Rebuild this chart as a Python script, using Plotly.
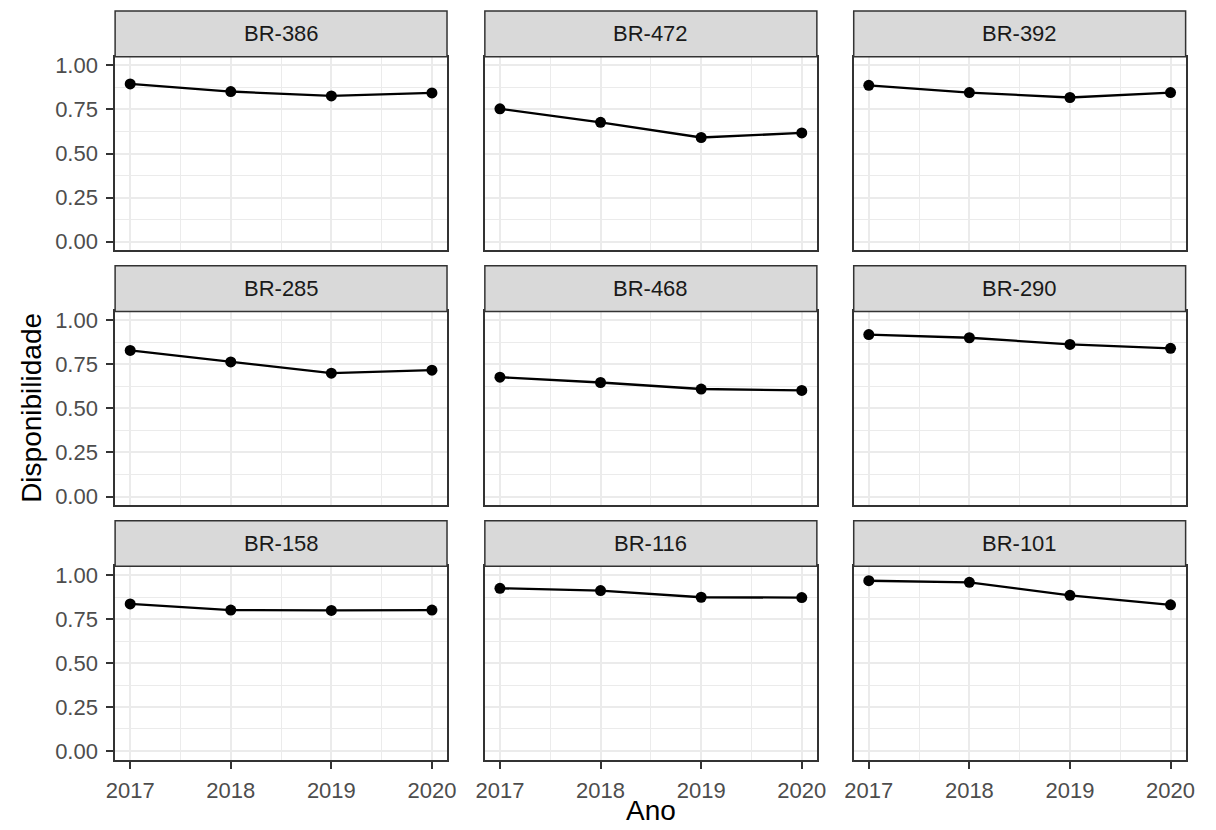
import plotly.graph_objects as go

# Data: yearly availability per highway
anos = [2017, 2018, 2019, 2020]
rodovias = ["BR-386", "BR-472", "BR-392",
            "BR-285", "BR-468", "BR-290",
            "BR-158", "BR-116", "BR-101"]
br386 = [0.895, 0.852, 0.827, 0.844]
br472 = [0.754, 0.677, 0.591, 0.617]
br392 = [0.887, 0.846, 0.818, 0.846]
br285 = [0.829, 0.764, 0.700, 0.717]
br468 = [0.677, 0.647, 0.610, 0.602]
br290 = [0.919, 0.901, 0.863, 0.841]
br158 = [0.836, 0.801, 0.799, 0.801]
br116 = [0.925, 0.912, 0.874, 0.872]
br101 = [0.968, 0.959, 0.885, 0.831]
valores = [br386, br472, br392, br285, br468, br290, br158, br116, br101]

y_ticks = [0.0, 0.25, 0.5, 0.75, 1.0]

W, H = 1216, 830
FONT = "Liberation Sans, Arial, Helvetica, sans-serif"
col_px = [(107.7, 444.6), (483.0, 820.0), (857.4, 1194.3)]
row_px = [(54.1, 249.5), (311.1, 506.6), (568.1, 763.2)]
STRIP_H = 46


def fx(px):
    return px / W


def fy(py):
    return 1 - py / H


fig = go.Figure()
shapes = []
annotations = []

for i, (nome, vals) in enumerate(zip(rodovias, valores)):
    r, c = divmod(i, 3)
    k = "" if i == 0 else str(i + 1)
    fig.add_trace(go.Scatter(
        x=anos, y=vals, mode="lines+markers",
        line=dict(color="black", width=2.3),
        marker=dict(color="black", size=11),
        xaxis="x" + k, yaxis="y" + k, showlegend=False,
        hoverinfo="x+y",
    ))
    x0, x1 = col_px[c]
    y0, y1 = row_px[r]
    show_x = r == 2
    show_y = c == 0
    fig.layout["xaxis" + k] = dict(
        domain=[fx(x0), fx(x1)], range=[2016.85, 2020.15],
        anchor="y" + k, tick0=2017, dtick=1, tickformat="d",
        showgrid=True, gridcolor="#EBEBEB", gridwidth=1.7,
        minor=dict(dtick=0.5, tick0=2016.5, showgrid=True,
                   gridcolor="#EBEBEB", gridwidth=0.9),
        zeroline=False, showline=True, mirror=True,
        linecolor="#333333", linewidth=1.5,
        ticks="outside" if show_x else "", ticklen=7,
        tickwidth=1.5, tickcolor="#333333",
        showticklabels=show_x, ticklabelstandoff=3,
        tickfont=dict(family=FONT, size=22, color="#4D4D4D"),
    )
    fig.layout["yaxis" + k] = dict(
        domain=[fy(y1), fy(y0)], range=[-0.05, 1.05],
        anchor="x" + k, tickvals=y_ticks, tickformat=".2f",
        showgrid=True, gridcolor="#EBEBEB", gridwidth=1.7,
        minor=dict(dtick=0.125, tick0=0, showgrid=True,
                   gridcolor="#EBEBEB", gridwidth=0.9),
        zeroline=False, showline=True, mirror=True,
        linecolor="#333333", linewidth=1.5,
        ticks="outside" if show_y else "", ticklen=7,
        tickwidth=1.5, tickcolor="#333333",
        showticklabels=show_y, ticklabelstandoff=4,
        tickfont=dict(family=FONT, size=22, color="#4D4D4D"),
    )
    # facet strip
    shapes.append(dict(
        type="rect", xref="paper", yref="paper",
        x0=fx(x0), x1=fx(x1), y0=fy(y0), y1=fy(y0 - STRIP_H),
        fillcolor="#D9D9D9", line=dict(color="#333333", width=1.5),
        layer="above",
    ))
    annotations.append(dict(
        text=nome, xref="paper", yref="paper",
        x=fx((x0 + x1) / 2), y=fy(y0 - STRIP_H / 2),
        xanchor="center", yanchor="middle", showarrow=False,
        font=dict(family=FONT, size=22, color="#1A1A1A"),
    ))

annotations.append(dict(
    text="Ano", xref="paper", yref="paper",
    x=fx((col_px[1][0] + col_px[1][1]) / 2), y=fy(814),
    xanchor="center", yanchor="middle", showarrow=False,
    font=dict(family=FONT, size=28, color="black"),
))
annotations.append(dict(
    text="Disponibilidade", xref="paper", yref="paper",
    x=fx(23), y=fy((row_px[0][0] + row_px[2][1]) / 2),
    xanchor="center", yanchor="middle", showarrow=False, textangle=-90,
    font=dict(family=FONT, size=28, color="black"),
))

fig.update_layout(
    width=W, height=H,
    margin=dict(l=0, r=0, t=0, b=0),
    paper_bgcolor="white", plot_bgcolor="white",
    shapes=shapes, annotations=annotations,
)

fig.write_html("out.html")
